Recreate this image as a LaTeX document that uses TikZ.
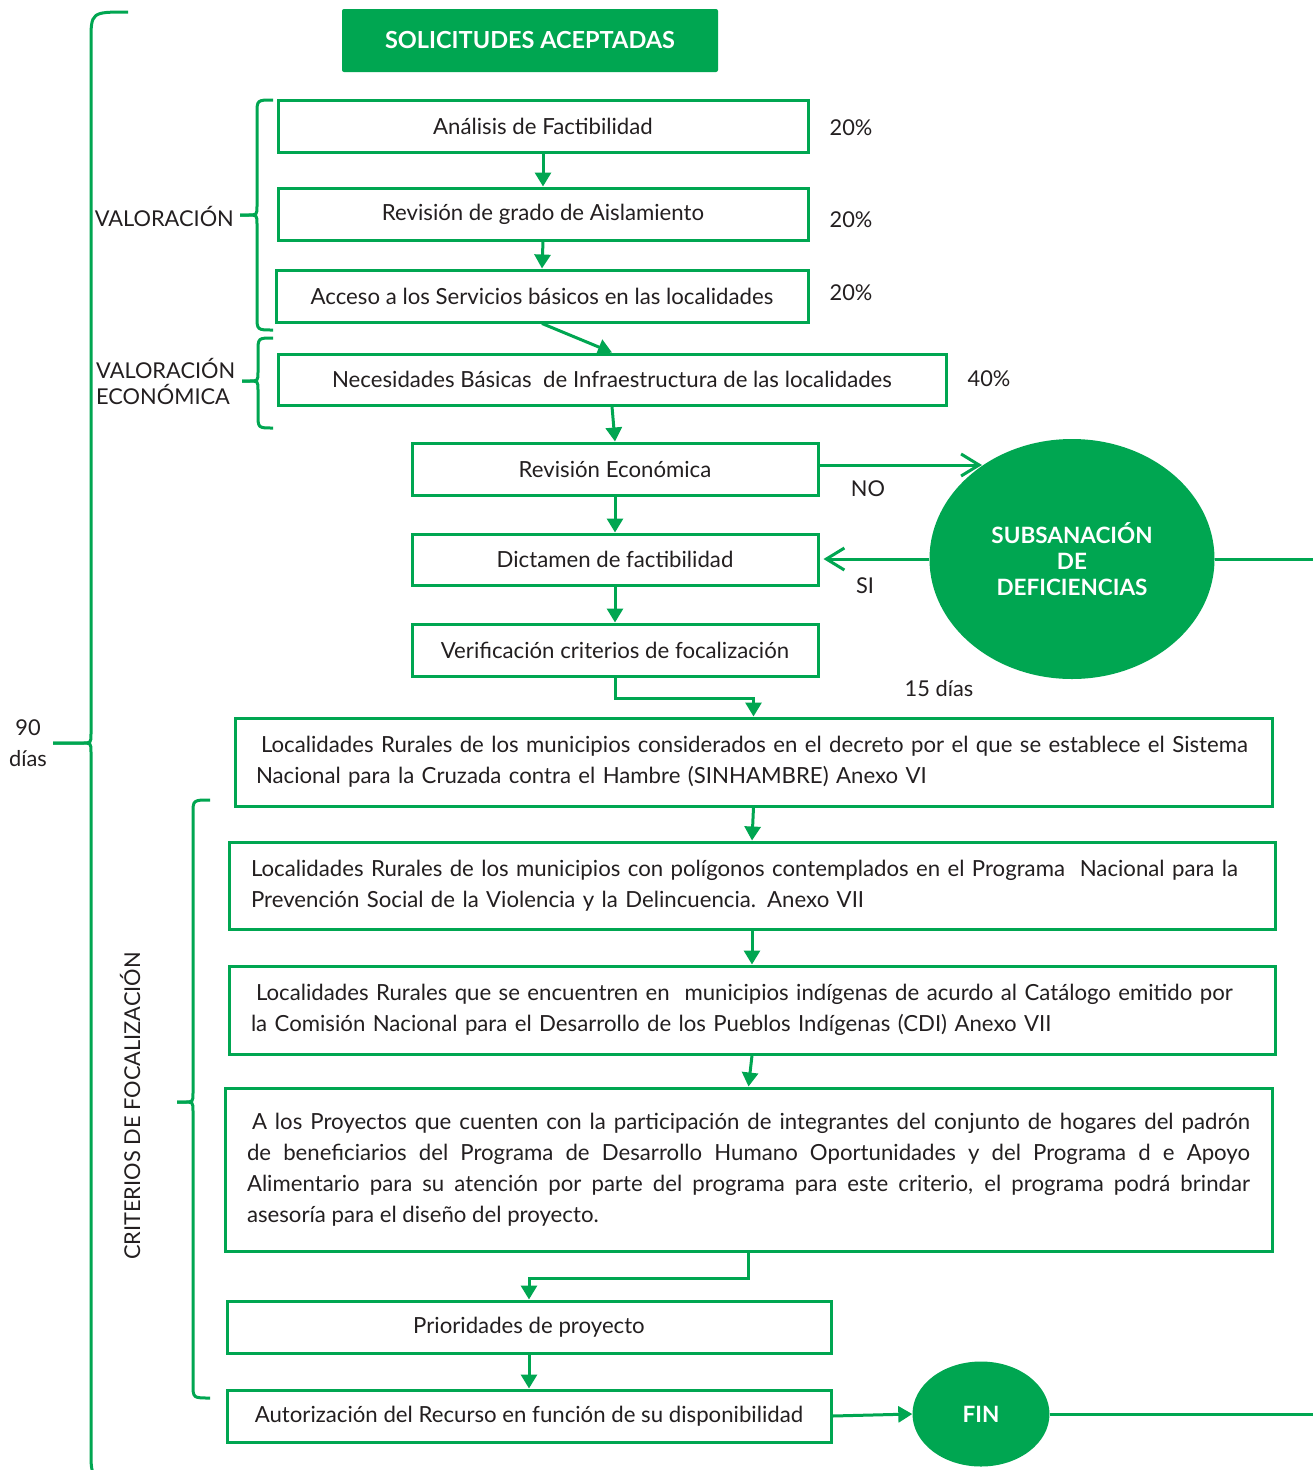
\documentclass[tikz,border=0pt]{standalone}
\usepackage{fontspec}
\setmainfont{Lato}
\usetikzlibrary{shapes.geometric,arrows.meta,calc}
\definecolor{gr}{HTML}{00A651}
\definecolor{tx}{HTML}{231F20}
\newcommand{\greenbrace}[7]{%
  \draw[brc] (#2,#3) .. controls (#1,#3) .. (#1,#3+#7) -- (#1,#4-9) .. controls (#1,#4) .. (#1-9,#4) -- (#6,#4);
  \draw[brc] (#6,#4) -- (#1-9,#4) .. controls (#1,#4) .. (#1,#4+9) -- (#1,#5-#7) .. controls (#1,#5) .. (#2,#5);
}
\begin{document}
\begin{tikzpicture}[x=1pt,y=-1pt,
  box/.style={draw=gr, line width=3pt, rectangle, inner sep=0pt, text=tx, font=\fontsize{22.2}{31}\selectfont},
  lbl/.style={text=tx, inner sep=0pt, font=\fontsize{21.8}{26}\selectfont},
  brc/.style={draw=gr, line width=3pt},
  arr/.style={draw=gr, line width=3pt, -{Triangle[length=14pt,width=16pt]}},
  openarr/.style={draw=gr, line width=3pt, -{Straight Barb[length=18pt,width=22pt,line width=3pt]}},
  ln/.style={draw=gr, line width=3pt},
  circ/.style={ellipse, fill=gr, inner sep=0pt, text=white, align=center, font=\bfseries\fontsize{22.5}{26}\selectfont}]
\useasboundingbox (0,0) rectangle (1313,1470);
\fill[white] (0,0) rectangle (1313,1470);
\coordinate (redge) at (1313,0);

% title
\node[fill=gr, rounded corners=2pt, minimum width=376, minimum height=63, inner sep=0pt, text=white, font=\bfseries\fontsize{23.5}{26}\selectfont] (sol) at (530,40.5) {SOLICITUDES ACEPTADAS};

% valoración boxes
\node[box, minimum width=530, minimum height=52] (ana) at (543,126) {Análisis de Factibilidad};
\node[box, minimum width=530, minimum height=52] (revg) at (543,214) {Revisión de grado de Aislamiento};
\node[box, minimum width=532, minimum height=52] (acc) at (542,296) {Acceso a los Servicios básicos en las localidades};
\node[box, minimum width=668, minimum height=51] (nec) at (612,379.5) {Necesidades Básicas\ \ de Infraestructura de las localidades};

% percentages
\node[lbl] (p1) at (851,128) {20\%};
\node[lbl] (p2) at (851,220) {20\%};
\node[lbl] (p3) at (851,293) {20\%};
\node[lbl] (p4) at (989,379) {40\%};

% middle chain
\node[box, minimum width=406, minimum height=52] (reve) at (615,469) {Revisión Económica};
\node[box, minimum width=406, minimum height=51] (dict) at (615,559.5) {Dictamen de factibilidad};
\node[box, minimum width=406, minimum height=52] (ver) at (615,650) {Verificación criterios de focalización};

\node[circ, minimum width=285, minimum height=240] (sub) at (1072,559) {SUBSANACIÓN\\DE\\DEFICIENCIAS};
\node[lbl] (no) at (868,489) {NO};
\node[lbl] (si) at (865,586) {SI};
\node[lbl] (quince) at (939,689) {15 días};

% long boxes
\node[box, minimum width=1037, minimum height=88, text width=995, align=left] (l8) at (753.5,762)
  {\hspace{5pt}Localidades Rurales de los municipios considerados en el decreto por el que se establece el Sistema\\Nacional para la Cruzada contra el Hambre (SINHAMBRE) Anexo VI};
\node[box, minimum width=1046, minimum height=87, text width=1002, align=left] (l9) at (752,885.5)
  {Localidades Rurales de los municipios con polígonos contemplados en el Programa\ \ Nacional para la\\Prevención Social de la Violencia y la Delincuencia. Anexo VII};
\node[box, minimum width=1046, minimum height=88, text width=1002, align=left] (l10) at (752,1010)
  {\hspace{5pt}Localidades Rurales que se encuentren en\ \ municipios indígenas de acurdo al Catálogo emitido por\\la Comisión Nacional para el Desarrollo de los Pueblos Indígenas (CDI) Anexo VII};
\node[box, minimum width=1047, minimum height=163, text width=1003, align=justify] (l11) at (748.5,1169.5)
  {\hspace{5pt}A los Proyectos que cuenten con la participación de integrantes del conjunto de hogares del padrón\linebreak de beneficiarios del Programa de Desarrollo Humano Oportunidades y del Programa d e Apoyo\linebreak Alimentario para su atención por parte del programa para este criterio, el programa podrá brindar\linebreak asesoría para el diseño del proyecto.};

\node[box, minimum width=604, minimum height=52] (prio) at (529,1327) {Prioridades de proyecto};
\node[box, minimum width=604, minimum height=52] (aut) at (529,1416) {Autorización del Recurso en función de su disponibilidad};
\node[circ, minimum width=137, minimum height=105] (fin) at (981,1414) {FIN};

% side labels
\node[lbl, anchor=east] (val) at (234,216) {VALORACIÓN};
\node[lbl, anchor=west, align=left] (vale) at (96,381) {VALORACIÓN\\ECONÓMICA};
\node[lbl, align=center, font=\fontsize{21.8}{31}\selectfont] (dias) at (28,743.5) {90\\días};
\node[lbl, rotate=90] (crit) at (130,1106) {CRITERIOS DE FOCALIZACIÓN};

% braces
\greenbrace{91}{128}{12}{743}{1480}{53}{30}
\greenbrace{257}{273}{100}{215}{330}{240}{14}
\greenbrace{258}{273}{338}{381}{428}{242}{14}
\greenbrace{193}{210}{800}{1102}{1398}{177}{14}

% connectors
\draw[arr] (ana.south) -- (revg.north);
\draw[arr] (revg.south) -- (acc.north);
\draw[arr] (acc.south) -- (nec.north);
\draw[arr] (nec.south) -- (reve.north);
\draw[openarr] ([yshift=4pt]reve.east) -- ([yshift=4pt]reve.east -| sub.134);
\draw[openarr, shorten >=4pt] (sub.west) -- (sub.west -| dict.east);
\draw[ln] (sub.east) -- (sub.east -| redge);
\draw[arr] (reve.south) -- (dict.north);
\draw[arr] (dict.south) -- (ver.north);
\draw[arr] (ver.south) -- ++(0,21) -| (l8.north);
\draw[arr] (l8.south) -- (l9.north);
\draw[arr] (l9.south) -- (l10.north);
\draw[arr] (l10.south) -- (l11.north);
\draw[arr] (l11.south) -- ++(0,26) -| (prio.north);
\draw[arr] (prio.south) -- (aut.north);
\draw[arr] (aut.east) -- (fin.west);
\draw[ln] (fin.east) -- (fin.east -| redge);
\end{tikzpicture}
\end{document}
